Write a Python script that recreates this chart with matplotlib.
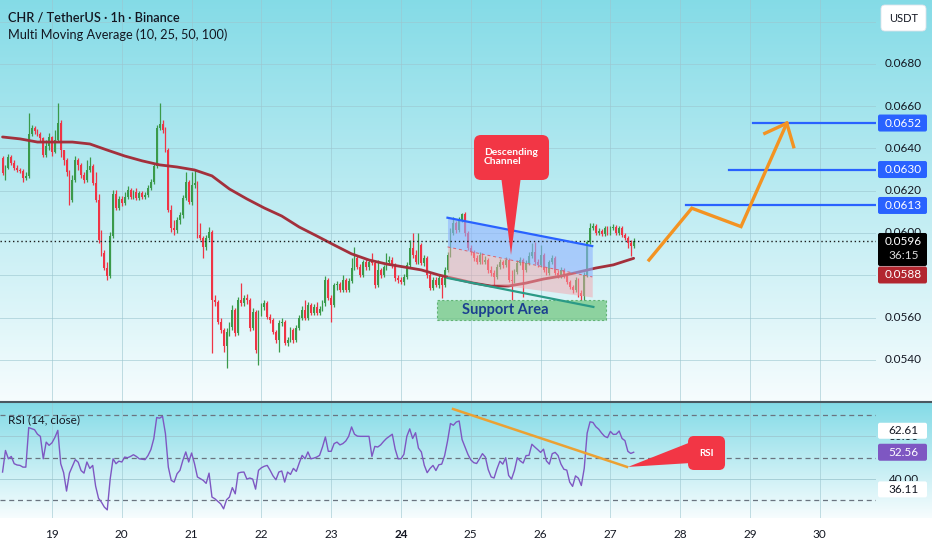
import numpy as np
import matplotlib
matplotlib.use("Agg")
import matplotlib.pyplot as plt
from matplotlib.patches import FancyBboxPatch, Rectangle, Polygon

plt.rcParams['font.family'] = ['Lato', 'DejaVu Sans']

# ---------------- data ----------------
first_open = 0.06355
closes = [
    0.06284, 0.06307, 0.06359, 0.06331, 0.06307, 0.06298, 0.06293, 0.06260, 0.06270, 0.06468,
    0.06497, 0.06482, 0.06468, 0.06449, 0.06369, 0.06411, 0.06454, 0.06383, 0.06440, 0.06520,
    0.06392, 0.06345, 0.06288, 0.06156, 0.06251, 0.06345, 0.06322, 0.06274, 0.06251, 0.06298,
    0.06317, 0.06236, 0.06156, 0.05967, 0.05905, 0.05834, 0.05796, 0.05986, 0.06184, 0.06118,
    0.06161, 0.06142, 0.06170, 0.06203, 0.06170, 0.06194, 0.06165, 0.06189, 0.06170, 0.06180,
    0.06213, 0.06241, 0.06317, 0.06497, 0.06515, 0.06487, 0.06392, 0.06109, 0.06024, 0.06014,
    0.06061, 0.06085, 0.06165, 0.06241, 0.06147, 0.06227, 0.06236, 0.05990, 0.05976, 0.05934,
    0.05976, 0.06005, 0.05683, 0.05674, 0.05579, 0.05541, 0.05465, 0.05532, 0.05555, 0.05636,
    0.05527, 0.05683, 0.05669, 0.05692, 0.05683, 0.05551, 0.05626, 0.05447, 0.05621, 0.05650,
    0.05669, 0.05603, 0.05588, 0.05532, 0.05494, 0.05574, 0.05579, 0.05480, 0.05494, 0.05541,
    0.05494, 0.05551, 0.05598, 0.05636, 0.05598, 0.05659, 0.05621, 0.05650, 0.05621, 0.05640,
    0.05669, 0.05778, 0.05692, 0.05659, 0.05754, 0.05759, 0.05730, 0.05778, 0.05730, 0.05773,
    0.05834, 0.05882, 0.05839, 0.05801, 0.05863, 0.05839, 0.05863, 0.05858, 0.05754, 0.05825,
    0.05801, 0.05839, 0.05863, 0.05872, 0.05849, 0.05787, 0.05778, 0.05768, 0.05792, 0.05849,
    0.05929, 0.05896, 0.05863, 0.05943, 0.05858, 0.05882, 0.05801, 0.05740, 0.05778, 0.05754,
    0.05787, 0.05754, 0.05825, 0.05896, 0.06000, 0.06047, 0.06014, 0.06061, 0.06090, 0.06000,
    0.05929, 0.05910, 0.05882, 0.05863, 0.05896, 0.05863, 0.05872, 0.05825, 0.05811, 0.05792,
    0.05839, 0.05863, 0.05849, 0.05872, 0.05778, 0.05773, 0.05815, 0.05858, 0.05872, 0.05825,
    0.05858, 0.05891, 0.05910, 0.05863, 0.05849, 0.05896, 0.05825, 0.05811, 0.05863, 0.05882,
    0.05811, 0.05796, 0.05825, 0.05801, 0.05768, 0.05744, 0.05730, 0.05778, 0.05716, 0.05702,
    0.05801, 0.05957, 0.06024, 0.06033, 0.06000, 0.06009, 0.05995, 0.06024, 0.06000, 0.06024,
    0.06028, 0.06000, 0.06024, 0.05990, 0.05976, 0.05953, 0.05938, 0.05962,
]
highs = [
    0.06364, 0.06322, 0.06374, 0.06369, 0.06345, 0.06322, 0.06307, 0.06303, 0.06288, 0.06567,
    0.06511, 0.06506, 0.06492, 0.06478, 0.06454, 0.06440, 0.06473, 0.06459, 0.06487, 0.06615,
    0.06534, 0.06392, 0.06355, 0.06298, 0.06274, 0.06364, 0.06355, 0.06331, 0.06288, 0.06345,
    0.06359, 0.06326, 0.06288, 0.06184, 0.06014, 0.05920, 0.05863, 0.06005, 0.06203, 0.06203,
    0.06175, 0.06175, 0.06194, 0.06222, 0.06213, 0.06203, 0.06213, 0.06199, 0.06199, 0.06194,
    0.06227, 0.06255, 0.06331, 0.06511, 0.06615, 0.06534, 0.06501, 0.06402, 0.06132, 0.06061,
    0.06076, 0.06099, 0.06180, 0.06288, 0.06251, 0.06288, 0.06298, 0.06246, 0.06047, 0.05986,
    0.05990, 0.06028, 0.06014, 0.05707, 0.05683, 0.05598, 0.05551, 0.05551, 0.05579, 0.05659,
    0.05645, 0.05697, 0.05763, 0.05707, 0.05711, 0.05692, 0.05645, 0.05636, 0.05636, 0.05669,
    0.05683, 0.05678, 0.05617, 0.05598, 0.05541, 0.05588, 0.05598, 0.05588, 0.05508, 0.05555,
    0.05551, 0.05565, 0.05612, 0.05655, 0.05683, 0.05674, 0.05669, 0.05664, 0.05674, 0.05655,
    0.05683, 0.05796, 0.05787, 0.05707, 0.05763, 0.05773, 0.05768, 0.05801, 0.05787, 0.05787,
    0.05882, 0.05934, 0.05891, 0.05853, 0.05872, 0.05882, 0.05877, 0.05905, 0.05867, 0.05872,
    0.05834, 0.05849, 0.05905, 0.05891, 0.05886, 0.05858, 0.05801, 0.05792, 0.05806, 0.05863,
    0.05967, 0.06000, 0.05920, 0.06000, 0.05953, 0.05896, 0.05891, 0.05811, 0.05792, 0.05792,
    0.05801, 0.05796, 0.05839, 0.05910, 0.06024, 0.06076, 0.06057, 0.06076, 0.06095, 0.06099,
    0.06009, 0.05943, 0.05920, 0.05896, 0.05910, 0.05905, 0.05891, 0.05882, 0.05844, 0.05825,
    0.05853, 0.05877, 0.05872, 0.05886, 0.05882, 0.05825, 0.05830, 0.05872, 0.05886, 0.05882,
    0.05872, 0.05910, 0.05953, 0.05957, 0.05877, 0.05943, 0.05905, 0.05839, 0.05872, 0.05896,
    0.05891, 0.05825, 0.05839, 0.05834, 0.05811, 0.05778, 0.05754, 0.05792, 0.05787, 0.05730,
    0.05815, 0.05967, 0.06047, 0.06047, 0.06042, 0.06024, 0.06019, 0.06033, 0.06033, 0.06033,
    0.06042, 0.06038, 0.06033, 0.06033, 0.06000, 0.05986, 0.05967, 0.05976,
]
lows = [
    0.06274, 0.06251, 0.06303, 0.06322, 0.06298, 0.06288, 0.06284, 0.06241, 0.06251, 0.06260,
    0.06459, 0.06468, 0.06459, 0.06435, 0.06359, 0.06359, 0.06392, 0.06364, 0.06378, 0.06430,
    0.06359, 0.06322, 0.06270, 0.06132, 0.06147, 0.06241, 0.06298, 0.06260, 0.06236, 0.06241,
    0.06288, 0.06227, 0.06147, 0.05953, 0.05891, 0.05825, 0.05778, 0.05787, 0.05976, 0.06109,
    0.06109, 0.06128, 0.06132, 0.06161, 0.06161, 0.06161, 0.06156, 0.06156, 0.06161, 0.06161,
    0.06170, 0.06203, 0.06232, 0.06307, 0.06487, 0.06473, 0.06383, 0.06099, 0.06005, 0.05990,
    0.06000, 0.06042, 0.06071, 0.06156, 0.06137, 0.06132, 0.06213, 0.05976, 0.05967, 0.05882,
    0.05920, 0.05967, 0.05432, 0.05655, 0.05570, 0.05527, 0.05437, 0.05361, 0.05513, 0.05541,
    0.05513, 0.05517, 0.05655, 0.05655, 0.05664, 0.05536, 0.05541, 0.05432, 0.05376, 0.05607,
    0.05636, 0.05593, 0.05574, 0.05522, 0.05480, 0.05437, 0.05560, 0.05470, 0.05465, 0.05484,
    0.05480, 0.05484, 0.05541, 0.05588, 0.05588, 0.05588, 0.05612, 0.05612, 0.05612, 0.05612,
    0.05631, 0.05655, 0.05683, 0.05579, 0.05650, 0.05730, 0.05721, 0.05721, 0.05721, 0.05721,
    0.05763, 0.05825, 0.05830, 0.05792, 0.05792, 0.05825, 0.05825, 0.05849, 0.05740, 0.05744,
    0.05787, 0.05792, 0.05825, 0.05853, 0.05834, 0.05773, 0.05763, 0.05759, 0.05754, 0.05782,
    0.05839, 0.05882, 0.05853, 0.05853, 0.05849, 0.05844, 0.05787, 0.05730, 0.05730, 0.05744,
    0.05740, 0.05692, 0.05744, 0.05815, 0.05886, 0.05990, 0.06000, 0.06005, 0.06052, 0.05986,
    0.05920, 0.05896, 0.05867, 0.05853, 0.05853, 0.05853, 0.05853, 0.05811, 0.05796, 0.05754,
    0.05782, 0.05830, 0.05834, 0.05839, 0.05768, 0.05683, 0.05763, 0.05806, 0.05849, 0.05697,
    0.05815, 0.05849, 0.05882, 0.05853, 0.05839, 0.05839, 0.05815, 0.05801, 0.05801, 0.05853,
    0.05801, 0.05787, 0.05787, 0.05787, 0.05759, 0.05735, 0.05716, 0.05721, 0.05697, 0.05683,
    0.05683, 0.05792, 0.05948, 0.06014, 0.05990, 0.05990, 0.05986, 0.05986, 0.05990, 0.05990,
    0.06014, 0.05990, 0.05990, 0.05981, 0.05967, 0.05929, 0.05891, 0.05929,
]
# 100-period moving average, read every 6 candles
ma100_idx = list(range(0, 211, 6)) + [217]
ma100 = [
    0.06454, 0.06445, 0.06430, 0.06430, 0.06430, 0.06421, 0.06392, 0.06364, 0.06341, 0.06322,
    0.06312, 0.06298, 0.06270, 0.06208, 0.06161, 0.06118, 0.06080, 0.06028, 0.05986, 0.05943,
    0.05901, 0.05872, 0.05853, 0.05839, 0.05825, 0.05801, 0.05782, 0.05763, 0.05749, 0.05749,
    0.05763, 0.05782, 0.05796, 0.05815, 0.05834, 0.05849, 0.05880,
]
rsi = [
    43.3, 53.4, 49.5, 50.6, 47.2, 46.6, 46.4, 45.6, 45.6, 64.1,
    63.6, 63.1, 61.0, 60.0, 49.5, 57.3, 55.8, 57.0, 59.5, 62.8,
    47.2, 43.0, 34.4, 42.8, 46.0, 49.1, 47.9, 44.0, 42.8, 48.0,
    45.0, 46.4, 36.7, 31.0, 29.2, 26.9, 25.6, 40.0, 49.5, 47.2,
    48.4, 48.0, 50.3, 50.0, 50.6, 51.4, 50.6, 49.5, 49.3, 49.1,
    51.0, 53.8, 58.9, 68.8, 68.5, 69.4, 61.3, 45.6, 39.4, 38.6,
    42.5, 44.1, 48.8, 52.7, 48.0, 52.2, 47.2, 41.0, 40.2, 39.4,
    38.0, 42.8, 31.6, 30.8, 29.6, 28.4, 26.1, 30.3, 31.6, 36.0,
    33.1, 42.8, 43.2, 43.3, 40.0, 40.5, 40.0, 35.3, 44.1, 45.3,
    46.0, 46.4, 44.1, 41.5, 39.7, 43.3, 43.8, 38.6, 43.3, 42.2,
    45.0, 43.6, 47.5, 51.1, 49.5, 52.7, 49.5, 49.8, 50.3, 51.1,
    55.0, 59.7, 53.0, 53.0, 56.6, 57.3, 56.0, 56.6, 57.8, 60.0,
    64.4, 61.0, 60.1, 60.0, 60.0, 60.0, 60.0, 50.6, 55.3, 55.0,
    56.0, 57.6, 59.0, 60.0, 61.0, 54.0, 49.5, 49.5, 51.6, 60.0,
    63.5, 59.0, 61.7, 54.5, 52.7, 46.5, 43.0, 45.0, 46.4, 44.0,
    46.7, 47.0, 51.0, 57.8, 66.0, 65.2, 66.7, 67.2, 58.5, 55.0,
    51.6, 49.0, 47.7, 47.3, 49.5, 51.9, 50.3, 44.4, 41.0, 40.5,
    44.8, 48.4, 47.0, 50.0, 41.7, 40.0, 44.0, 50.0, 48.5, 47.5,
    51.0, 51.1, 56.3, 55.0, 53.8, 52.5, 54.0, 48.5, 47.0, 51.9,
    52.5, 51.0, 47.0, 44.6, 44.2, 38.6, 36.6, 41.5, 40.4, 37.0,
    45.0, 61.5, 66.8, 66.5, 64.5, 63.3, 61.5, 60.0, 59.4, 62.3,
    60.9, 61.0, 62.5, 59.0, 58.0, 53.0, 52.0, 52.56,
]
day_values = [19, 20, 21, 22, 23, 24, 25, 26, 27, 28, 29, 30]
day_labels = ['19', '20', '21', '22', '23', '24', '25', '26', '27', '28', '29', '30']
grid_prices = [0.0540, 0.0560, 0.0580, 0.0600, 0.0620, 0.0640, 0.0660, 0.0680, 0.0700]
shown_price_labels = [0.0540, 0.0560, 0.0600, 0.0620, 0.0640, 0.0660, 0.0680]
target_prices = [0.0613, 0.0630, 0.0652]
target_start = [28.083, 28.699, 29.043]
ma_last_label = 0.0588
rsi_levels_dashed = [70, 50, 30]
rsi_levels_grid = [40, 60]
rsi_side_labels = [62.61, 36.11]
countdown = "36:15"

# drawing anchors (time in days, price / RSI value)
channel_t = [24.666, 26.740]
channel_top = [0.06072, 0.05938]
channel_mid = [0.05934, 0.05792]
channel_low = [0.05787, 0.05697]
trend_low_t = [24.666, 26.756]
trend_low_p = [0.05787, 0.05650]
support_t = [24.516, 26.937]
support_p = [0.05588, 0.05683]
support_label_t = 25.49
proj_t = [27.553, 28.166, 28.871, 29.527]
proj_p = [0.05872, 0.06117, 0.06030, 0.06519]
arrow_t = [29.212, 29.527, 29.625]
arrow_p = [0.06471, 0.06519, 0.06408]
rsi_trend_t = [24.745, 27.238]
rsi_trend_v = [72.8, 45.7]
callout_tip_t, callout_tip_p = 25.576, 0.05896
rsi_tip_t, rsi_tip_v = 27.238, 45.7

# ---------------- figure ----------------
W, H, DPI = 932, 550, 100
fig = plt.figure(figsize=(W / DPI, H / DPI), dpi=DPI)
fig.patch.set_facecolor('white')

T0 = 18 + 7 / 24
n = len(closes)
times = T0 + np.arange(n) / 24.0
c = np.array(closes)
o = np.array([first_open] + closes[:-1])
hi = np.maximum(np.array(highs), np.maximum(o, c))
lo = np.minimum(np.array(lows), np.minimum(o, c))

XMIN, XMAX = 18.255, 30.805
PMIN, PMAX = 0.05205, 0.07102
RMIN, RMAX = 21.8, 75.6
MAIN_BOTTOM = 401
RSI_TOP, RSI_BOTTOM = 403, 518
AXIS_X = 876

TEXT = '#131722'
UP, DN = '#3a9a4a', '#ef3445'

# background gradients
bg = fig.add_axes([0, 0, 1, 1], zorder=0)
top_c = np.array([0.52, 0.86, 0.905])
bot_c = np.array([0.965, 0.99, 0.995])


def grad(y0, y1, power=1.0):
    k = int(y1 - y0)
    t = np.linspace(0, 1, k)[:, None] ** power
    img = top_c * (1 - t) + bot_c * t
    bg.imshow(img[:, None, :], extent=(0, W, y1, y0), aspect='auto',
              interpolation='bilinear')


grad(0, MAIN_BOTTOM, 1.0)
grad(RSI_TOP, RSI_BOTTOM, 1.0)
bg.set_xlim(0, W)
bg.set_ylim(H, 0)
bg.axis('off')

# ---------------- main price axes ----------------
ax = fig.add_axes([0, 1 - MAIN_BOTTOM / H, AXIS_X / W, MAIN_BOTTOM / H], zorder=2)
ax.patch.set_alpha(0)
for s in ax.spines.values():
    s.set_visible(False)
ax.set_xticks([])
ax.set_yticks([])
GRID = '#9cc6cf'
for d in day_values:
    ax.axvline(d, color=GRID, lw=0.7, alpha=0.6, zorder=0.5)
for p in grid_prices:
    ax.axhline(p, color=GRID, lw=0.7, alpha=0.6, zorder=0.5)

up = c >= o
cols = np.where(up, UP, DN)
ax.vlines(times, lo, hi, colors=cols, lw=0.9, zorder=3)
body_b = np.minimum(o, c)
body_h = np.maximum(np.abs(c - o), 0.00004)
ax.bar(times, body_h, bottom=body_b, width=0.62 / 24, color=cols, lw=0, zorder=3)

ax.plot(T0 + np.array(ma100_idx) / 24.0, ma100, color='#a3303c', lw=2.0,
        zorder=4, solid_capstyle='round')

ax.axhline(closes[-1], color='#1c1c1c', lw=1.0, ls=(0, (1, 2)), zorder=6)

# descending channel
ax.fill_between(channel_t, channel_mid, channel_top, color='#8fb3ff', alpha=0.6, lw=0, zorder=5)
ax.fill_between(channel_t, channel_low, channel_mid, color='#f3a7ae', alpha=0.5, lw=0, zorder=5)
ax.plot(channel_t, channel_top, color='#2962ff', lw=1.6, zorder=6)
ax.plot(channel_t, channel_mid, color='#e0606a', lw=0.7, ls=(0, (3, 3)), zorder=6)
ax.plot(trend_low_t, trend_low_p, color='#2a9a86', lw=1.6, zorder=6)

# support area
ax.add_patch(Rectangle((support_t[0], support_p[0]), support_t[1] - support_t[0],
                       support_p[1] - support_p[0], facecolor='#6cc47a', alpha=0.7,
                       edgecolor='#3f9f52', ls=(0, (2, 2)), lw=0.8, zorder=5))
ax.text(support_label_t, np.mean(support_p), 'Support Area', color='#1b3f8f',
        fontsize=10.5, fontweight='bold', ha='center', va='center', zorder=7)

# targets & projection
for tp, ts in zip(target_prices, target_start):
    ax.plot([ts, XMAX], [tp, tp], color='#2962ff', lw=1.6, zorder=6)
ax.plot(proj_t, proj_p, color='#f39322', lw=2.4, zorder=7, solid_joinstyle='miter')
ax.plot(arrow_t, arrow_p, color='#f39322', lw=2.4, zorder=7, solid_joinstyle='miter')

ax.set_xlim(XMIN, XMAX)
ax.set_ylim(PMIN, PMAX)

# ---------------- RSI axes ----------------
rax = fig.add_axes([0, 1 - RSI_BOTTOM / H, AXIS_X / W, (RSI_BOTTOM - RSI_TOP) / H], zorder=2)
rax.patch.set_alpha(0)
for s in rax.spines.values():
    s.set_visible(False)
rax.set_xticks([])
rax.set_yticks([])
for d in day_values:
    rax.axvline(d, color=GRID, lw=0.7, alpha=0.6, zorder=0.5)
for lv in rsi_levels_grid:
    rax.axhline(lv, color=GRID, lw=0.7, alpha=0.8, zorder=0.5)
for lv in rsi_levels_dashed:
    rax.axhline(lv, color='#6a7480', lw=0.9, ls=(0, (4, 3)), zorder=1)
rax.plot(times, rsi, color='#7e57c2', lw=1.0, zorder=3)
rax.plot(rsi_trend_t, rsi_trend_v, color='#eba133', lw=1.8, zorder=4)
rax.set_xlim(XMIN, XMAX)
rax.set_ylim(RMIN, RMAX)

# ---------------- overlay (pixel coordinates) ----------------
ov = fig.add_axes([0, 0, 1, 1], zorder=10)
ov.set_xlim(0, W)
ov.set_ylim(H, 0)
ov.axis('off')
ov.patch.set_alpha(0)


def px(axis, t, v):
    x, y = axis.transData.transform((t, v))
    return x, H - y


ov.plot([0, W], [402, 402], color='#4a5860', lw=1.5, zorder=1)

ov.text(8, 17, 'CHR / TetherUS · 1h · Binance', fontsize=9.2, color=TEXT,
        fontweight='semibold', ha='left', va='center')
ov.text(8, 35, 'Multi Moving Average (10, 25, 50, 100)', fontsize=9.2, color=TEXT,
        ha='left', va='center')
ov.text(8, 420, 'RSI (14, close)', fontsize=8.5, color=TEXT, ha='left', va='center')

# day labels
for d, lab in zip(day_values, day_labels):
    x, _ = px(ax, d, PMIN)
    ov.text(x, 535, lab, fontsize=8.5, color=TEXT, ha='center', va='center',
            fontweight='bold' if lab == '24' else 'normal')

# price axis
BX, BW = 878, 49
CX = BX + BW / 2 + 1


def tag(yc, text, fc, tc, h=17, z=5):
    ov.add_patch(FancyBboxPatch((BX, yc - h / 2), BW, h,
                                boxstyle='round,pad=0,rounding_size=2',
                                fc=fc, ec='none', zorder=z))
    ov.text(CX, yc, text, fontsize=8.5, color=tc, ha='center', va='center', zorder=z + 1)


def clipped_label(y, text, ymin, ymax):
    t = ov.text(CX, y, text, fontsize=8.5, color=TEXT, ha='center', va='center', zorder=3)
    clip = Rectangle((BX - 5, ymin), BW + 10, ymax - ymin, transform=ov.transData)
    t.set_clip_path(clip)
    t.set_clip_on(True)


_, ylast = px(ax, XMIN, closes[-1])
box_top = ylast - 8

for p in shown_price_labels:
    _, y = px(ax, XMIN, p)
    if abs(p - 0.0600) < 1e-9:
        clipped_label(y, f'{p:.4f}', y - 10, box_top)
    else:
        ov.text(CX, y, f'{p:.4f}', fontsize=8.5, color=TEXT, ha='center', va='center', zorder=3)

for tp in target_prices:
    _, y = px(ax, XMIN, tp)
    tag(y, f'{tp:.4f}', '#2962ff', 'white')

ov.add_patch(FancyBboxPatch((BX, box_top), BW, 33, boxstyle='round,pad=0,rounding_size=2',
                            fc='black', ec='none', zorder=5))
ov.text(CX, ylast + 0.5, f'{closes[-1]:.4f}', fontsize=8.5, color='white',
        ha='center', va='center', zorder=6)
ov.text(CX, ylast + 15, countdown, fontsize=8.5, color='#d9d9d9',
        ha='center', va='center', zorder=6)
tag(ylast + 34, f'{ma_last_label:.4f}', '#b2262f', 'white')

ov.add_patch(FancyBboxPatch((881, 5), 45, 26, boxstyle='round,pad=0,rounding_size=4',
                            fc='white', ec='#dfe3ea', lw=0.6, zorder=5))
ov.text(903.5, 18, 'USDT', fontsize=8, color=TEXT, ha='center', va='center', zorder=6)

# RSI side labels
rsi_box_y = {}
for lv in rsi_side_labels:
    _, y = px(rax, XMIN, lv)
    yc = y + (2 if lv < 50 else 0)
    rsi_box_y[lv] = yc
    tag(yc, f'{lv:.2f}', 'white', TEXT, h=16)
_, y60 = px(rax, XMIN, 60)
clipped_label(y60, '60.00', rsi_box_y[62.61] + 8, y60 + 10)
_, y40 = px(rax, XMIN, 40)
clipped_label(y40, '40.00', y40 - 10, rsi_box_y[36.11] - 8)
_, yr = px(rax, XMIN, rsi[-1])
tag(yr, f'{rsi[-1]:.2f}', '#7e57c2', 'white', h=17)

# "Descending Channel" callout
RED = '#f23645'
tx, ty = px(ax, callout_tip_t, callout_tip_p)
ov.add_patch(FancyBboxPatch((tx - 37, 135), 75, 45, boxstyle='round,pad=0,rounding_size=7',
                            fc=RED, ec='none', zorder=4))
ov.add_patch(Polygon([(tx - 10, 176), (tx + 10, 176), (tx, ty)], closed=True,
                     fc=RED, ec='none', zorder=4))
ov.text(tx - 27, 157, 'Descending\nChannel', fontsize=7.4, color='white', fontweight='bold',
        ha='left', va='center', linespacing=1.0, zorder=5)

# "RSI" callout
rx, ry = px(rax, rsi_tip_t, rsi_tip_v)
ov.add_patch(FancyBboxPatch((rx + 61, 436), 37, 34, boxstyle='round,pad=0,rounding_size=6',
                            fc=RED, ec='none', zorder=4))
ov.add_patch(Polygon([(rx + 1, ry), (rx + 64, 442), (rx + 64, 463)], closed=True,
                     fc=RED, ec='none', zorder=4))
ov.text(rx + 79.5, 453, 'RSI', fontsize=7, color='white', fontweight='bold',
        ha='center', va='center', zorder=5)

fig.savefig('out.png', dpi=DPI)
